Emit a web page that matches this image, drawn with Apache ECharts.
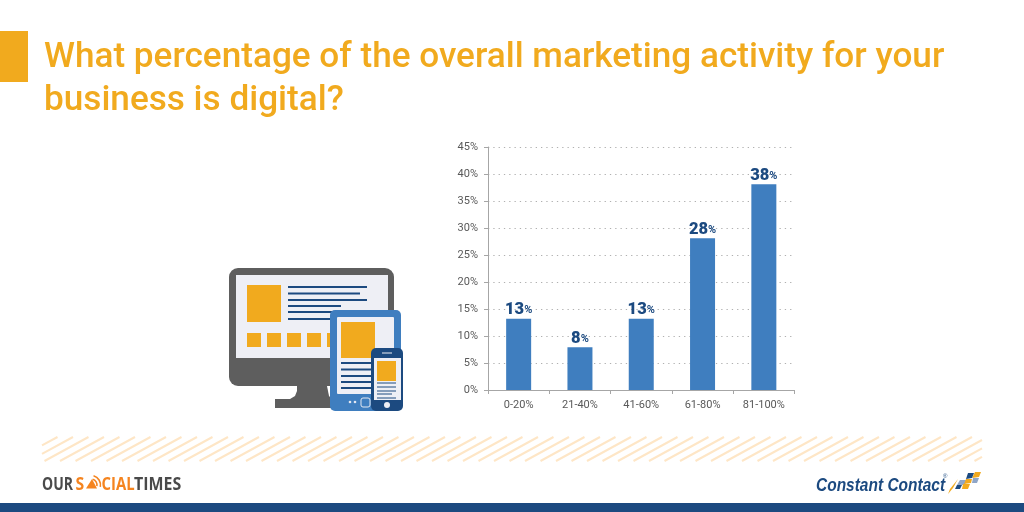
<!DOCTYPE html>
<html><head><meta charset="utf-8">
<style>html,body{margin:0;padding:0;background:#fff}#c{width:1024px;height:512px}</style>
<script src="https://cdn.jsdelivr.net/npm/echarts@6/dist/echarts.min.js"></script></head>
<body><div id="c"></div>
<script>
const categories = ['0-20%','21-40%','41-60%','61-80%','81-100%'];
const values = [13.2,7.9,13.2,28.1,38.1];
const valueLabels = ['13','8','13','28','38'];
const titleLines = ['What percentage of the overall marketing activity for your','business is digital?'];

const ORANGE='#F1AA1E', BLUE='#3F7EBF', NAVY='#1C4A80', GREY='#5E5E5E', PALE='#EEEFF5';
const chart = echarts.init(document.getElementById('c'),null,{renderer:'canvas'});
const g=[];
const rect=(x,y,w,h,fill,r)=>g.push({type:'rect',shape:{x,y,width:w,height:h,r:r||0},style:{fill}});
const line=(x1,y1,x2,y2,stroke,w)=>g.push({type:'line',shape:{x1,y1,x2,y2},style:{stroke,lineWidth:w}});
const text=(x,base,t,size,font,fill,sx)=>g.push({type:'text',x,y:base-size*0.76,scaleX:sx||1,style:{text:t,font,fill}});
const poly=(points,fill)=>g.push({type:'polygon',shape:{points},style:{fill}});

rect(0,31,28,51,ORANGE);
titleLines.forEach((t,i)=>text(44,67+i*43,t,35.15,'500 35.15px Roboto',ORANGE));

// hatch band
const hx0=42,hx1=982,hy0=437,hy1=461,dx=44;
for(let x=hx0-dx;x<hx1;x+=15.5){
  let x1=x,y1=hy1,x2=x+dx,y2=hy0;
  if(x1<hx0){y1=hy1-(hx0-x1)*(hy1-hy0)/dx;x1=hx0;}
  if(x2>hx1){y2=hy0+(x2-hx1)*(hy1-hy0)/dx;x2=hx1;}
  line(x1,y1,x2,y2,'#FEE6C6',2);
}

// monitor
rect(229,268,165,118,GREY,9);
poly([[297,385],[297,391],[295,396],[290,399],[275,399],[275,408],[335,408],[335,385]],GREY);
poly([[327,386],[331,386],[331,398],[329,396]],'#fff');
rect(236,275,152,83,PALE);
rect(247,285,34,37,ORANGE);
[[287,367],[293.5,360],[300,367],[306,341],[312,341],[319,341]].forEach(a=>line(288,a[0],a[1],a[0],NAVY,2));
[247,267,287,307,327].forEach(x=>rect(x,333,14,14,ORANGE));
// tablet
rect(330,310,71,101,BLUE,5);
rect(337,317,57,77,PALE,1);
rect(341,322,34,36,ORANGE);
[363,369.5,376,382,388].forEach(y=>line(341,y,372,y,NAVY,2));
g.push({type:'circle',shape:{cx:350,cy:402,r:1.3},style:{fill:'#E4E8F2'}});
g.push({type:'circle',shape:{cx:355,cy:402,r:1.3},style:{fill:'#E4E8F2'}});
g.push({type:'rect',shape:{x:361,y:398,width:9,height:9,r:2},style:{fill:BLUE,stroke:'#E4E8F2',lineWidth:1}});
// phone
rect(371,348,32,63,NAVY,5);
rect(374,358,27,42,PALE);
rect(377,361,19,20,ORANGE);
[[383,396],[387,396],[391,396],[394,392],[398,396]].forEach(a=>line(377,a[0],a[1],a[0],NAVY,1));
line(382,353,392,353,PALE,1);
g.push({type:'circle',shape:{cx:387,cy:405,r:3},style:{fill:PALE}});

// OurSocialTimes
const F='700 17.5px "Open Sans"', DK='#4A4A4A', OR='#F5841F';
text(42,489,'OUR',17.5,F,DK,0.8);
text(75.5,489,'S',17.5,F,OR,0.9);
poly([[86,488.5],[97,488.5],[92,479]],OR);
g.push({type:'arc',shape:{cx:91,cy:485,r:6,startAngle:-1.3,endAngle:0.2},style:{stroke:OR,fill:'none',lineWidth:1.6}});
g.push({type:'arc',shape:{cx:91,cy:485,r:9.5,startAngle:-1.3,endAngle:0.2},style:{stroke:OR,fill:'none',lineWidth:1.6}});
text(101.5,489,'CIAL',17.5,F,OR,0.85);
text(134,489,'TIMES',17.5,F,DK,0.91);

// Constant Contact
text(816,491,'Constant Contact',19,'italic 700 19px "Liberation Sans"',NAVY,0.815);
text(943,478,'®',6,'400 6px "Liberation Sans"',NAVY);
poly([[975,472],[981,472],[979,477],[972,478]],ORANGE);
poly([[968,473],[974,473],[972,478],[966,479]],NAVY);
poly([[960,480],[966,480],[965,485],[957,485]],'#8FA6C8');
poly([[966,479],[972,479],[971,483],[964,484]],ORANGE);
poly([[973,478],[979,478],[977,483],[972,483]],'#8FA6C8');
poly([[957,485],[962,485],[960,489],[955,489]],NAVY);
poly([[963,484],[970,484],[968,489],[962,489]],ORANGE);
poly([[958,479],[950,489],[948,494],[953,488]],ORANGE);

rect(0,503,1024,9,NAVY);

chart.setOption({
  animation:false,
  graphic:{elements:g},
  grid:{left:488,top:147,width:306.5,height:243,containLabel:false},
  xAxis:{type:'category',data:categories,
    axisLine:{lineStyle:{color:'#A6A6A6',width:1}},
    axisTick:{show:true,alignWithLabel:false,length:4,lineStyle:{color:'#A6A6A6'}},
    axisLabel:{color:'#595959',fontFamily:'Roboto',fontSize:11,margin:10,interval:0},
    splitLine:{show:false}},
  yAxis:{type:'value',min:0,max:45,interval:5,
    axisLine:{show:true,lineStyle:{color:'#A6A6A6',width:1}},
    axisTick:{show:true,length:4,lineStyle:{color:'#A6A6A6'}},
    axisLabel:{color:'#595959',fontFamily:'Roboto',fontSize:11,margin:10,padding:[2,0,0,0],formatter:'{value}%'},
    splitLine:{show:true,lineStyle:{color:'#B0B0B0',type:[1.3,4],width:1}}},
  series:[{type:'bar',data:values,barWidth:25,
    itemStyle:{color:BLUE},
    label:{show:true,position:'top',distance:0,
      formatter:p=>`{a|${valueLabels[p.dataIndex]}}{b|%}`,
      rich:{a:{fontFamily:'Roboto',fontWeight:900,fontSize:16.5,color:NAVY},b:{fontFamily:'Roboto',fontWeight:700,fontSize:11,color:NAVY}}}}]
});
</script></body></html>
